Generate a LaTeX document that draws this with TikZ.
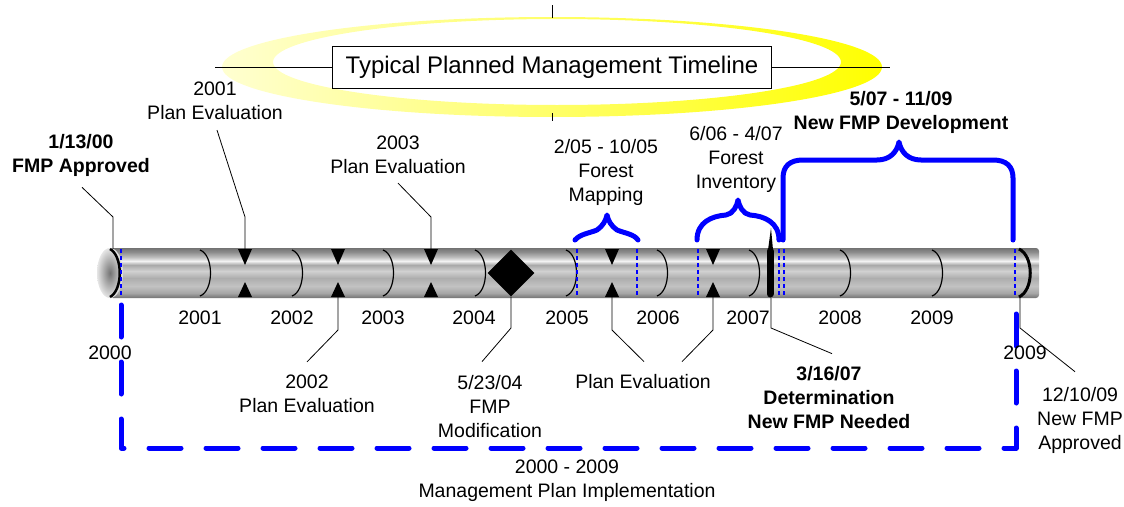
\documentclass[tikz,border=0pt]{standalone}
\usepackage{fontspec}
\setmainfont{Liberation Sans}
\usetikzlibrary{shapes.geometric}
\pgfdeclareverticalshading{tube}{100bp}{color(0bp)=(black!55); color(25bp)=(black!55); color(30bp)=(black!35); color(37bp)=(black!24); color(45bp)=(black!32); color(52bp)=(black!18); color(58bp)=(black!34); color(62bp)=(black!5); color(66bp)=(black!26); color(71bp)=(black!45); color(75bp)=(black!55); color(100bp)=(black!55)}
\begin{document}
\begin{tikzpicture}[x=1pt,y=-1pt,
  txt/.style={font=\fontsize{19.5}{24}\selectfont, align=center, inner sep=0pt},
  btxt/.style={txt, font=\fontsize{19.5}{24}\selectfont\bfseries},
  leader/.style={black, line width=0.8pt},
  yeararc/.style={black, line width=1.2pt},
  brace/.style={blue, line width=5pt, line cap=round, line join=round},
  span/.style={blue, line width=5pt, line cap=round, line join=round, dash pattern=on 32pt off 25pt},
  tick/.style={blue, line width=1.2pt, dash pattern=on 4pt off 3pt}]
\useasboundingbox (0,0) rectangle (1124,506);
% Title
\shade[even odd rule, left color=yellow!18, right color=yellow]
  (552,67) ellipse [x radius=330pt, y radius=50pt]
  (557,62) ellipse [x radius=284pt, y radius=43pt];
\draw[leader] (552,5) -- (552,18);
\draw[leader] (552,113) -- (552,121);
\node[draw, fill=white, font=\fontsize{24}{28}\selectfont, minimum width=439pt, minimum height=42pt, inner sep=0pt] (title) at (552,67) {Typical Planned Management Timeline};
\draw[leader] (215,67) -- (title.west);
\draw[leader] (title.east) -- (890,67);
% Tube
\shade[shading=tube, rounded corners=3pt] (110,248) rectangle (1039,298);
\shade[inner color=black!55, outer color=black!10] (110,273) ellipse [x radius=13pt, y radius=25pt];
\foreach \x in {211,303,394,486,577,668,760,851,943}
  \draw[yeararc] (\x-11,250) .. controls (\x+3,255) and (\x+3,291) .. (\x-11,296);
\draw[line width=2.5pt] (110,249) .. controls (123,256) and (123,290) .. (110,297);
\draw[line width=3pt] (1019,249) .. controls (1034,256) and (1034,290) .. (1019,297);
\foreach \x in {121,577,637,698,779,784,1015}
  \draw[tick] (\x,249) -- (\x,297);
% Plan evaluations
\foreach \x/\n in {245/a,338/b,431/c,612/d,713/e} {
  \fill (\x-7,249) -- (\x+7,249) -- (\x,265) -- cycle;
  \fill (\x-7,297) -- (\x+7,297) -- (\x,282) -- cycle;
  \coordinate (top\n) at (\x,249);
  \coordinate (bot\n) at (\x,297);
}
\node[diamond, fill=black, minimum size=47pt, inner sep=0pt] (modif) at (511,273) {};
\fill (768,250) -- (773,250) -- (771,228) -- cycle;
\draw[line width=7pt, line cap=round] (770,251) -- (770,294);
\coordinate (needed) at (771,298);
\coordinate (newend) at (1020,298);
\coordinate (start) at (113,249);
% Braces
\draw[brace] (575,240) .. controls (580,234) and (590,233) .. (597,230)
  .. controls (603,226) and (606,220) .. (607,215)
  .. controls (608,220) and (611,226) .. (617,230)
  .. controls (624,233) and (634,234) .. (638,240);
\draw[brace] (697,240) .. controls (697,222) and (712,216) .. (726,215)
  .. controls (733,214) and (737,206) .. (738,200)
  .. controls (739,206) and (743,214) .. (750,215)
  .. controls (764,216) and (779,222) .. (779,240);
\draw[brace] (783,240) -- (783,178) .. controls (783,166) and (790,160) .. (803,160)
  -- (877,160) .. controls (890,160) and (897,152) .. (899,142)
  .. controls (901,152) and (908,160) .. (921,160)
  -- (993,160) .. controls (1006,160) and (1013,166) .. (1013,178) -- (1013,240);
\draw[span] (121,305) -- (121,448) -- (1016,448) -- (1016,305);
% Years
\node[txt] (y2000) at (110,353) {2000};
\foreach \x [count=\i from 1] in {200,292,383,474,567,658,748,840,932}
  \node[txt] (y\i) at (\x,318) {\the\numexpr2000+\i\relax};
\node[txt] (y2009) at (1025,353) {2009};
% Labels
\node[btxt] (approved) at (81,155) {1/13/00\\FMP Approved};
\node[txt] (evalA) at (215,101) {2001\\Plan Evaluation};
\node[txt] (evalC) at (398,155) {2003\\Plan Evaluation};
\node[txt] (evalB) at (307,394) {2002\\Plan Evaluation};
\node[txt] (modlabel) at (490,407) {5/23/04\\FMP\\Modification};
\node[txt] (evalDE) at (643,382) {Plan Evaluation};
\node[btxt] (detlabel) at (829,398) {3/16/07\\Determination\\New FMP Needed};
\node[txt] (apprlabel) at (1080,420) {12/10/09\\New FMP\\Approved};
\node[txt] (mapping) at (606,172) {2/05 - 10/05\\Forest\\Mapping};
\node[txt] (inventory) at (736,159) {6/06 - 4/07\\Forest\\Inventory};
\node[btxt] (devlabel) at (901,112) {5/07 - 11/09\\New FMP Development};
\node[txt] (impl) at (567,481) {2000 - 2009\\Management Plan Implementation};
% Leaders
\draw[leader] ([xshift=1pt,yshift=-11pt]approved.south) -- (113,217) -- (start);
\draw[leader] ([xshift=2pt,yshift=-10pt]evalA.south) -- (245,217) -- (topa);
\draw[leader] ([yshift=-9pt]evalC.south) -- (431,217) -- (topc);
\draw[leader] ([yshift=13pt]evalB.north) -- (338,330) -- (botb);
\draw[leader] ([xshift=-8pt,yshift=14pt]modlabel.north) -- (511,328) -- (modif.south);
\draw[leader] ([xshift=1pt,yshift=13pt]evalDE.north) -- (612,330) -- (botd);
\draw[leader] ([xshift=39pt,yshift=13pt]evalDE.north) -- (713,330) -- (bote);
\draw[leader] ([xshift=3pt,yshift=13pt]detlabel.north) -- (771,328) -- (needed);
\draw[leader] ([xshift=-5pt,yshift=15pt]apprlabel.north) -- (1020,328) -- (newend);
\end{tikzpicture}
\end{document}
